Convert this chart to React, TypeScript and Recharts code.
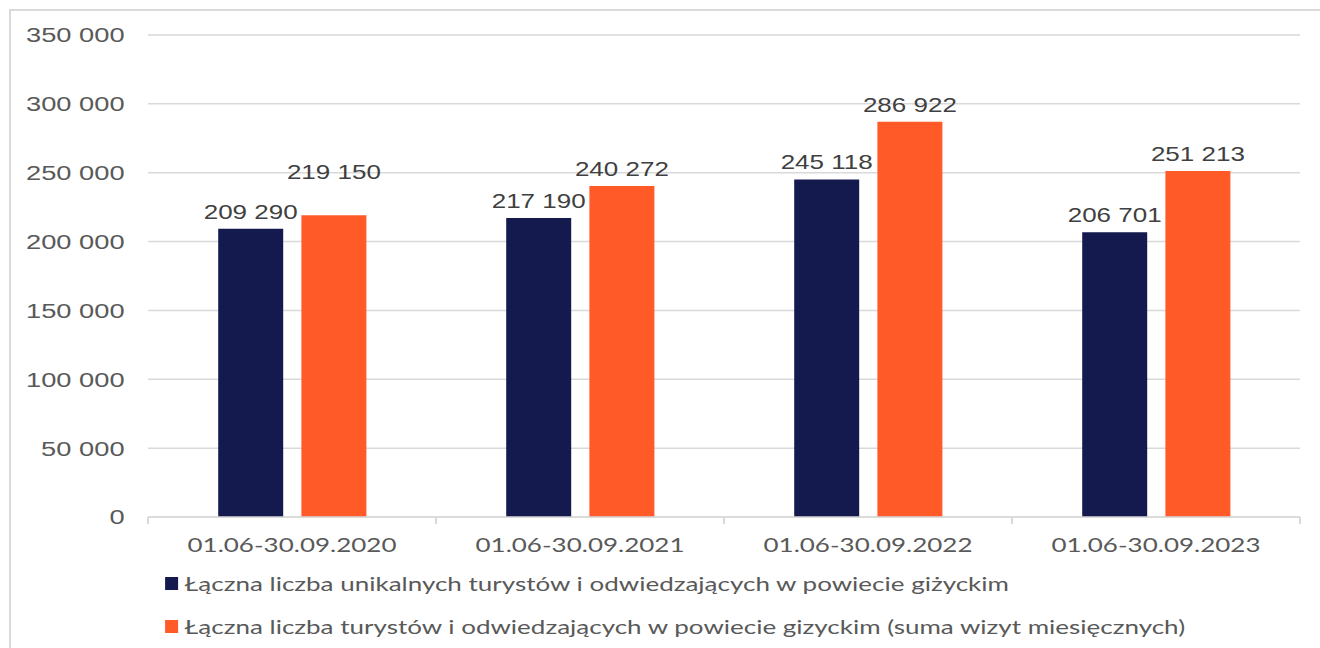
import { Bar, BarChart, CartesianGrid, LabelList, XAxis, YAxis } from "recharts";

const categories = ["01.06-30.09.2020", "01.06-30.09.2021", "01.06-30.09.2022", "01.06-30.09.2023"];
const uniqueVisitors = [209290, 217190, 245118, 206701];
const totalVisits = [219150, 240272, 286922, 251213];
const yTicks = [0, 50000, 100000, 150000, 200000, 250000, 300000, 350000];
const seriesNames = [
  "Łączna liczba unikalnych turystów i odwiedzających w powiecie giżyckim",
  "Łączna liczba turystów i odwiedzających w powiecie gizyckim (suma wizyt miesięcznych)",
];

const NAVY = "#141a4e";
const ORANGE = "#ff5a28";
const GRID = "#d9d9d9";
const SX = 1.3;
const W = Math.round(1320 / SX);

const data = categories.map((c, i) => ({ name: c, unique: uniqueVisitors[i], total: totalVisits[i] }));

const fmt = (v: number) =>
  v >= 1000 ? `${Math.floor(v / 1000)} ${String(v % 1000).padStart(3, "0")}` : String(v);

const X_TICK_SIZE = 6;
const X_TICK_MARGIN = 14;

function XTick(props: any) {
  const { x, y, payload, index, width, visibleTicksCount } = props;
  const band = width / visibleTicksCount;
  const axisY = y - X_TICK_SIZE - X_TICK_MARGIN;
  return (
    <g>
      <line x1={x - band / 2} x2={x - band / 2} y1={axisY} y2={axisY + 7} stroke={GRID} strokeWidth={1.5} />
      {index === visibleTicksCount - 1 && (
        <line x1={x + band / 2} x2={x + band / 2} y1={axisY} y2={axisY + 7} stroke={GRID} strokeWidth={1.5} />
      )}
      <text x={x} y={y + 15} textAnchor="middle" fill="#595959" fontFamily="Lato" fontSize={20}>
        {payload.value}
      </text>
    </g>
  );
}

function makeLabel(series: "unique" | "total") {
  return (props: any) => {
    const { x, y, width, value, index } = props;
    const lift = series === "total" && index === 0 ? 36 : 10;
    return (
      <text
        x={x + width / 2}
        y={y - lift}
        textAnchor="middle"
        fill="#404040"
        fontFamily="'Liberation Sans', Arial, sans-serif"
        fontSize={20}
      >
        {fmt(value)}
      </text>
    );
  };
}

export default function App() {
  return (
    <div style={{ position: "absolute", left: 0, top: 0, width: 1320, height: 648, overflow: "hidden", background: "#fff" }}>
      <div
        style={{
          position: "absolute",
          left: 9,
          top: 9,
          width: 1330,
          height: 700,
          border: `2px solid ${GRID}`,
        }}
      />
      <div
        style={{
          position: "absolute",
          left: 0,
          top: 0,
          width: W,
          height: 648,
          transform: `scaleX(${SX})`,
          transformOrigin: "0 0",
        }}
      >
        <BarChart
          width={W}
          height={648}
          data={data}
          margin={{ top: 35, right: W - 1300 / SX, left: 0, bottom: 101 }}
          barSize={50}
          barGap={14}
        >
          <CartesianGrid vertical={false} stroke={GRID} strokeWidth={1.5} />
          <XAxis
            dataKey="name"
            height={30}
            axisLine={{ stroke: GRID, strokeWidth: 1.5 }}
            tickLine={false}
            tickSize={X_TICK_SIZE}
            tickMargin={X_TICK_MARGIN}
            interval={0}
            tick={<XTick />}
          />
          <YAxis
            width={148 / SX}
            domain={[0, 350000]}
            ticks={yTicks}
            tickFormatter={fmt}
            axisLine={false}
            tickLine={false}
            tickSize={6}
            tickMargin={12}
            tick={{ fill: "#595959", fontSize: 21, fontFamily: "'Liberation Sans', Arial, sans-serif" }}
          />
          <Bar dataKey="unique" name={seriesNames[0]} fill={NAVY} isAnimationActive={false}>
            <LabelList dataKey="unique" content={makeLabel("unique")} />
          </Bar>
          <Bar dataKey="total" name={seriesNames[1]} fill={ORANGE} isAnimationActive={false}>
            <LabelList dataKey="total" content={makeLabel("total")} />
          </Bar>
        </BarChart>
        {seriesNames.map((n, i) => (
          <div
            key={n}
            style={{
              position: "absolute",
              left: 127,
              top: i === 0 ? 571 : 614,
              height: 24,
              display: "flex",
              alignItems: "center",
              whiteSpace: "nowrap",
              fontFamily: "Lato",
              fontSize: 20,
              color: "#595959",
            }}
          >
            <span style={{ display: "inline-block", width: 10, height: 13, background: i === 0 ? NAVY : ORANGE, marginRight: 5 }} />
            {n}
          </div>
        ))}
      </div>
    </div>
  );
}
